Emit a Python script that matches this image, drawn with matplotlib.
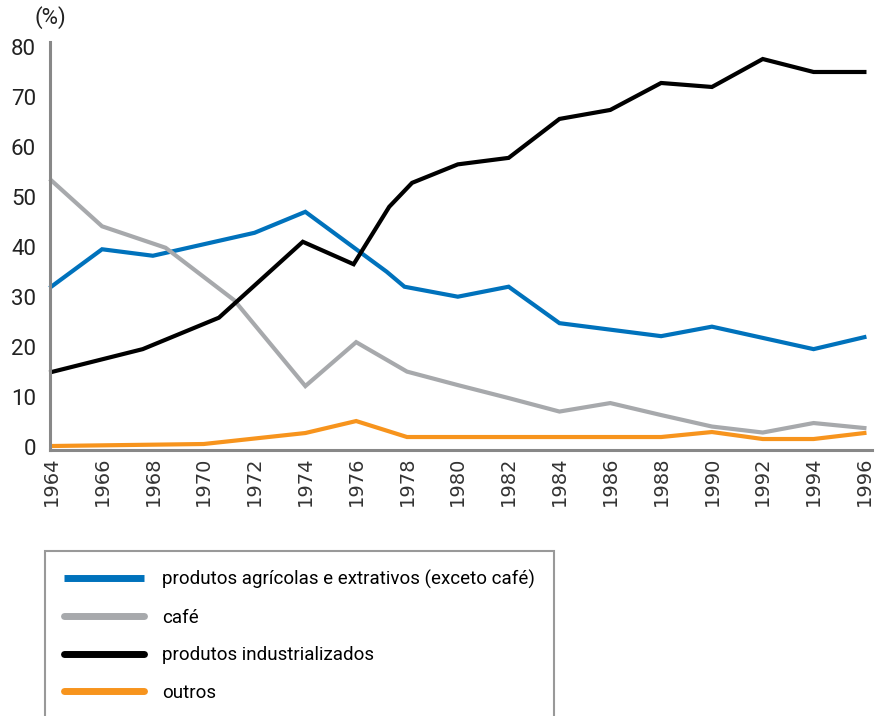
import matplotlib
matplotlib.use("Agg")
import matplotlib.pyplot as plt
from matplotlib.lines import Line2D

# series (some kinks fall between the labelled years)
agri_years = [1964, 1966, 1968, 1972, 1974, 1977.2, 1977.9, 1980, 1982, 1984, 1988, 1990, 1994, 1996]
agri_vals = [32, 39.5, 38.2, 42.8, 47, 35, 32, 30, 32, 24.7, 22.1, 24, 19.5, 21.9]

cafe_years = [1964, 1966, 1968.5, 1971.2, 1974, 1976, 1978, 1980, 1982, 1984, 1986, 1988, 1990, 1992, 1994, 1996]
cafe_vals = [53.3, 44.1, 39.8, 29.3, 12.1, 20.9, 15, 12.3, 9.7, 7, 8.7, 6.3, 4.0, 2.8, 4.7, 3.7]

ind_years = [1964, 1967.6, 1970.6, 1973.9, 1975.9, 1977.3, 1978.2, 1980, 1982, 1984, 1986, 1988, 1990, 1992, 1994, 1996]
ind_vals = [14.9, 19.5, 25.8, 41, 36.5, 48, 52.8, 56.5, 57.8, 65.6, 67.4, 72.8, 72, 77.6, 75, 75]

outros_years = [1964, 1970, 1974, 1976, 1978, 1988, 1990, 1992, 1994, 1996]
outros_vals = [0.1, 0.5, 2.7, 5.1, 1.9, 1.9, 2.9, 1.5, 1.5, 2.7]

labels = ["produtos agrícolas e extrativos (exceto café)", "café",
          "produtos industrializados", "outros"]
colors = ["#0072BC", "#A7A9AC", "#000000", "#F7941D"]

xticks = list(range(1964, 1997, 2))
yticks = list(range(0, 81, 10))

narrow = ["Liberation Sans Narrow", "Roboto", "DejaVu Sans"]

fig = plt.figure(figsize=(8.75, 7.16), dpi=100)
ax = fig.add_axes([0.0571, 0.3715, 0.9395, 0.5698])

series = [(agri_years, agri_vals), (cafe_years, cafe_vals),
          (ind_years, ind_vals), (outros_years, outros_vals)]
for (xs, ys), c in zip(series, colors):
    ax.plot(xs, ys, color=c, lw=3, solid_joinstyle="miter", clip_on=False)

ax.set_xlim(1963.95, 1996.3)
ax.set_ylim(-0.7, 81)
ax.set_xticks(xticks)
ax.set_xticklabels([str(t) for t in xticks], rotation=90, fontsize=14,
                   family="DejaVu Sans", color="#333333")
ax.set_yticks(yticks)
ax.set_yticklabels([str(t) for t in yticks], fontsize=16, family=narrow,
                   color="#222222")
ax.tick_params(axis="both", length=0)
ax.tick_params(axis="x", pad=5)
ax.tick_params(axis="y", pad=10)

for s in ["top", "right"]:
    ax.spines[s].set_visible(False)
for s in ["left", "bottom"]:
    ax.spines[s].set_color("#888888")
    ax.spines[s].set_linewidth(2.2)

fig.text(50 / 875, 1 - 18 / 716, "(%)", ha="center", va="center",
         fontsize=16, family=narrow, color="#222222")

handles = [Line2D([], [], color=c, lw=5, solid_capstyle="round") for c in colors]
handles[0].set_solid_capstyle("butt")
leg = fig.legend(handles, labels, loc="upper left",
                 bbox_to_anchor=(45 / 875, 1 - 551 / 716),
                 prop={"family": narrow, "size": 13.5},
                 frameon=True, fancybox=False, framealpha=1,
                 edgecolor="#999999", borderpad=1.0, borderaxespad=0,
                 handlelength=4.3, handletextpad=0.95, labelspacing=1.05)
leg.get_frame().set_linewidth(1.5)

fig.savefig("out.png", dpi=100)
